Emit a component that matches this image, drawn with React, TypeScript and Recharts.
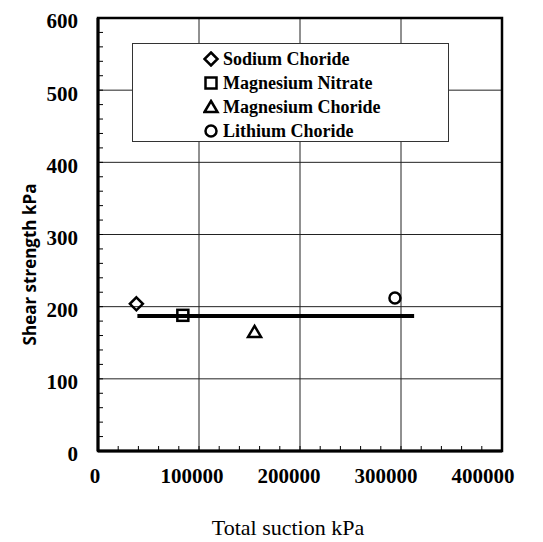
import {
  ScatterChart,
  Scatter,
  XAxis,
  YAxis,
  CartesianGrid,
  Legend,
  ReferenceArea,
  Label,
} from "recharts";

const sodiumChoride = [{ x: 38000, y: 204 }];
const magnesiumNitrate = [{ x: 84000, y: 188 }];
const magnesiumChoride = [{ x: 155000, y: 165 }];
const lithiumChoride = [{ x: 294000, y: 212 }];

// horizontal fitted line
const fitLine = [
  { x: 39000, y: 187 },
  { x: 313000, y: 187 },
];

const seriesNames = [
  "Sodium Choride",
  "Magnesium Nitrate",
  "Magnesium Choride",
  "Lithium Choride",
];
const markerKinds = ["diamond", "square", "triangle", "circle"];

const xTicks = [0, 100000, 200000, 300000, 400000];
const yTicks = [0, 100, 200, 300, 400, 500, 600];
const xMinorTicks = [
  0, 20000, 40000, 60000, 80000, 100000, 120000, 140000, 160000, 180000, 200000,
  220000, 240000, 260000, 280000, 300000, 320000, 340000, 360000, 380000, 400000,
];
const yMinorTicks = [
  0, 20, 40, 60, 80, 100, 120, 140, 160, 180, 200, 220, 240, 260, 280, 300, 320,
  340, 360, 380, 400, 420, 440, 460, 480, 500, 520, 540, 560, 580, 600,
];

const SERIF = "'Liberation Serif', 'Times New Roman', serif";
const STROKE = 2.5;
const X_MARGIN = 17;
const Y_MARGIN = 20;

const Marker = ({ kind, cx, cy }: { kind: string; cx: number; cy: number }) => {
  if (kind === "diamond") {
    const r = 6.5;
    return (
      <path
        d={`M${cx},${cy - r}L${cx + r},${cy}L${cx},${cy + r}L${cx - r},${cy}Z`}
        fill="none"
        stroke="#000"
        strokeWidth={STROKE}
      />
    );
  }
  if (kind === "square") {
    const r = 5.5;
    return (
      <rect x={cx - r} y={cy - r} width={2 * r} height={2 * r} fill="none" stroke="#000" strokeWidth={STROKE} />
    );
  }
  if (kind === "triangle") {
    return (
      <path
        d={`M${cx},${cy - 6}L${cx + 6.5},${cy + 5}L${cx - 6.5},${cy + 5}Z`}
        fill="none"
        stroke="#000"
        strokeWidth={STROKE}
      />
    );
  }
  return <circle cx={cx} cy={cy} r={5.5} fill="none" stroke="#000" strokeWidth={STROKE} />;
};

const makeShape = (kind: string) => (props: any) => <Marker kind={kind} cx={props.cx} cy={props.cy} />;

const LegendBox = () => (
  <div
    style={{
      border: "1px solid #333",
      background: "#fff",
      boxSizing: "border-box",
      width: 317,
      height: 99,
      paddingTop: 3,
      paddingLeft: 70,
      fontFamily: SERIF,
      fontWeight: "bold",
      fontSize: 18,
      color: "#000",
    }}
  >
    {seriesNames.map((name, i) => (
      <div key={name} style={{ height: 24, lineHeight: "24px", display: "flex", alignItems: "center" }}>
        <svg width={18} height={16} style={{ marginRight: 2 }}>
          <Marker kind={markerKinds[i]} cx={8} cy={8} />
        </svg>
        <span>{name}</span>
      </div>
    ))}
  </div>
);

// minor ticks point into the plot; labels only on the major values.
// the scanned figure has its x labels drifting left of the gridlines
const XTick = ({ x, y, payload }: any) => {
  const axisY = y - X_MARGIN;
  const major = xTicks.includes(payload.value);
  return (
    <g>
      <line x1={x} x2={x} y1={axisY} y2={axisY - 5} stroke="#000" strokeWidth={1} />
      {major && (
        <text
          x={x - 3 - (payload.value / 400000) * 16}
          y={y}
          dy="0.71em"
          textAnchor="middle"
          fill="#000"
          fontSize={21}
          fontWeight="bold"
          fontFamily={SERIF}
        >
          {payload.value}
        </text>
      )}
    </g>
  );
};

const YTick = ({ x, y, payload }: any) => {
  const axisX = x + Y_MARGIN;
  const major = yTicks.includes(payload.value);
  return (
    <g>
      <line x1={axisX} x2={axisX + 5} y1={y} y2={y} stroke="#000" strokeWidth={1} />
      {major && (
        <text
          x={x}
          y={y + 3}
          dy="0.355em"
          textAnchor="end"
          fill="#000"
          fontSize={21}
          fontWeight="bold"
          fontFamily={SERIF}
        >
          {payload.value}
        </text>
      )}
    </g>
  );
};

export default function App() {
  return (
    <ScatterChart
      width={527}
      height={534}
      margin={{ top: 10, right: 33, bottom: 0, left: 0 }}
      style={{ background: "#fff" }}
    >
      <CartesianGrid stroke="#222" strokeWidth={1} horizontalValues={yTicks} verticalValues={xTicks} />
      <XAxis
        type="number"
        dataKey="x"
        domain={[0, 400000]}
        ticks={xMinorTicks}
        interval={0}
        height={91}
        tickLine={false}
        tickSize={0}
        tickMargin={X_MARGIN}
        axisLine={{ stroke: "#000", strokeWidth: 3 }}
        tick={<XTick />}
        allowDataOverflow
      >
        <Label
          content={({ viewBox }: any) => (
            <text
              x={viewBox.x + viewBox.width / 2 - 12}
              y={viewBox.y + 84}
              textAnchor="middle"
              fill="#000"
              fontSize={22}
              fontFamily={SERIF}
            >
              Total suction kPa
            </text>
          )}
        />
      </XAxis>
      <YAxis
        type="number"
        dataKey="y"
        domain={[0, 600]}
        ticks={yMinorTicks}
        interval={0}
        width={90}
        tickLine={false}
        tickSize={0}
        tickMargin={Y_MARGIN}
        axisLine={{ stroke: "#000", strokeWidth: 3 }}
        tick={<YTick />}
        allowDataOverflow
      >
        <Label
          content={({ viewBox }: any) => {
            const x = 21;
            const y = viewBox.y + viewBox.height / 2 + 30;
            return (
              <text
                x={x}
                y={y}
                transform={`rotate(-90 ${x} ${y})`}
                textAnchor="middle"
                dominantBaseline="central"
                fill="#000"
                fontSize={17}
                fontWeight={700}
                fontFamily="'Open Sans', sans-serif"
              >
                Shear strength kPa
              </text>
            );
          }}
        />
      </YAxis>
      <ReferenceArea x1={0} x2={400000} y1={0} y2={600} fill="none" stroke="#000" strokeWidth={2.5} />
      <Legend
        layout="vertical"
        align="center"
        verticalAlign="middle"
        content={() => <LegendBox />}
        wrapperStyle={{ left: 124, top: 35, width: 317, height: 99 }}
      />
      <Scatter
        data={fitLine}
        line={{ stroke: "#000", strokeWidth: 4 }}
        shape={() => <g />}
        legendType="none"
        isAnimationActive={false}
      />
      <Scatter name={seriesNames[0]} data={sodiumChoride} shape={makeShape("diamond")} isAnimationActive={false} />
      <Scatter name={seriesNames[1]} data={magnesiumNitrate} shape={makeShape("square")} isAnimationActive={false} />
      <Scatter name={seriesNames[2]} data={magnesiumChoride} shape={makeShape("triangle")} isAnimationActive={false} />
      <Scatter name={seriesNames[3]} data={lithiumChoride} shape={makeShape("circle")} isAnimationActive={false} />
    </ScatterChart>
  );
}
